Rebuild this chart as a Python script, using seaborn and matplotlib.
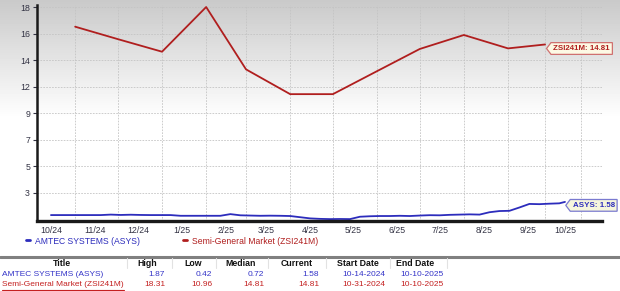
import numpy as np
import pandas as pd
import matplotlib
matplotlib.use("Agg")
import matplotlib.pyplot as plt
import matplotlib.ticker as mticker
import matplotlib.dates as mdates
from matplotlib.lines import Line2D
from matplotlib.path import Path
import seaborn as sns

# ---------------- data ----------------
asys_name = "AMTEC SYSTEMS (ASYS)"
zsi_name = "Semi-General Market (ZSI241M)"

asys_start = "2024-10-14"
asys_weekly = [0.76, 0.76, 0.76, 0.76, 0.76, 0.76, 0.80, 0.77, 0.79, 0.77,
               0.76, 0.76, 0.76, 0.70, 0.70, 0.70, 0.70, 0.70, 0.84, 0.74,
               0.72, 0.70, 0.71, 0.70, 0.68, 0.58, 0.48, 0.44, 0.42, 0.43,
               0.42, 0.62, 0.66, 0.68, 0.68, 0.70, 0.68, 0.72, 0.75, 0.74,
               0.78, 0.80, 0.82, 0.80, 1.00, 1.10, 1.12, 1.40, 1.70, 1.68,
               1.72, 1.75]
asys_end_date = "2025-10-10"
asys_end_value = 1.87

zsi_dates = ["2024-10-31", "2024-11-30", "2024-12-31", "2025-01-31",
             "2025-02-28", "2025-03-31", "2025-04-30", "2025-05-31",
             "2025-06-30", "2025-07-31", "2025-08-31", "2025-09-26"]
zsi_values = [16.65, 15.60, 14.54, 18.31, 13.05, 10.96, 10.96, 12.90,
              14.77, 15.95, 14.82, 15.15]
extra_grid_date = "2025-10-21"

x_label_dates = ["2024-10-14", "2024-11-14", "2024-12-14", "2025-01-14",
                 "2025-02-14", "2025-03-14", "2025-04-14", "2025-05-14",
                 "2025-06-14", "2025-07-14", "2025-08-14", "2025-09-14",
                 "2025-10-10"]
x_labels = ["10/24", "11/24", "12/24", "1/25", "2/25", "3/25", "4/25",
            "5/25", "6/25", "7/25", "8/25", "9/25", "10/25"]

y_low, y_high = 0.42, 18.31
y_labels = ["3", "5", "7", "9", "12", "14", "16", "18"]

table_header = ["Title", "High", "Low", "Median", "Current", "Start Date", "End Date"]
asys_row = [asys_name, "1.87", "0.42", "0.72", "1.58", "10-14-2024", "10-10-2025"]
zsi_row = [zsi_name, "18.31", "10.96", "14.81", "14.81", "10-31-2024", "10-10-2025"]
asys_current = 1.58
zsi_current = 14.81

# ---------------- frame ----------------
asys_dates = list(pd.date_range(asys_start, periods=len(asys_weekly), freq="7D")) + [pd.Timestamp(asys_end_date)]
df = pd.concat([
    pd.DataFrame({"date": asys_dates, "value": asys_weekly + [asys_end_value], "series": asys_name}),
    pd.DataFrame({"date": pd.to_datetime(zsi_dates), "value": zsi_values, "series": zsi_name}),
], ignore_index=True)

BLUE = "#2c2cbc"
RED = "#b01e1e"

sns.set_theme(style="white")
plt.rcParams["font.family"] = ["Liberation Sans", "DejaVu Sans"]

W, H = 620, 291
fig = plt.figure(figsize=(W / 100, H / 100), dpi=100, facecolor="white")

# gradient background
bg = fig.add_axes([0, 0, 1, 1], zorder=-10)
rows = np.arange(H)
grad = 0.79 + 0.21 * np.clip(rows / 118.0, 0, 1)
bg.imshow(grad[:, None], cmap="gray", vmin=0, vmax=1, aspect="auto",
          extent=[0, 1, 0, 1], origin="upper")
bg.axis("off")

def fx(px):
    return px / W

def fy(py):
    return 1 - py / H

ax = fig.add_axes([fx(37), fy(221), fx(602) - fx(37), fy(5) - fy(221)])
ax.set_facecolor("none")

sns.lineplot(data=df, x="date", y="value", hue="series",
             palette={asys_name: BLUE, zsi_name: RED}, ax=ax,
             sort=False, estimator=None, linewidth=1.3)

# axes limits
x0 = pd.Timestamp(asys_start) - pd.Timedelta(days=9.8)
x1 = pd.Timestamp(asys_start) + pd.Timedelta(days=387)
ax.set_xlim(x0, x1)
ax.set_ylim(0.26, 18.48)

# y ticks
yt = np.linspace(y_low, y_high, 9)[1:]
ax.yaxis.set_major_locator(mticker.FixedLocator(yt))
ax.yaxis.set_major_formatter(mticker.FixedFormatter(y_labels))

# x: grid at month positions, labels via minor ticks
grid_nums = mdates.date2num(pd.to_datetime(zsi_dates + [extra_grid_date]))
ax.xaxis.set_major_locator(mticker.FixedLocator(grid_nums))
ax.xaxis.set_major_formatter(mticker.NullFormatter())
ax.xaxis.set_minor_locator(mticker.FixedLocator(mdates.date2num(pd.to_datetime(x_label_dates))))
ax.xaxis.set_minor_formatter(mticker.FixedFormatter(x_labels))

ax.tick_params(axis="x", which="major", length=0)
ax.tick_params(axis="x", which="minor", length=1.5, pad=2, labelsize=6.3,
               colors="#333344", width=0.6)
ax.tick_params(axis="y", which="major", length=3, pad=2, labelsize=6.3,
               colors="#333344", width=0.8, left=True)
ax.set_xlabel("")
ax.set_ylabel("")

ax.grid(True, axis="both", which="major", color="#c4c4c4", linestyle=(0, (2, 1.5)),
        linewidth=0.6)
ax.set_axisbelow(True)

for s in ["top", "right"]:
    ax.spines[s].set_visible(False)
ax.spines["left"].set_color("#1a1a1a")
ax.spines["left"].set_linewidth(1.8)
ax.spines["bottom"].set_color("#1a1a1a")
ax.spines["bottom"].set_linewidth(2.4)


def tag_box(x0, y0, width, height, mutation_size):
    pad = 0.3 * mutation_size
    bx0, by0 = x0 - pad, y0 - pad
    bx1, by1 = x0 + width + pad, y0 + height + pad
    tip = 0.38 * (by1 - by0)
    ym = (by0 + by1) / 2
    verts = [(bx0, by0), (bx1, by0), (bx1, by1), (bx0, by1), (bx0 - tip, ym), (bx0, by0)]
    return Path(verts, closed=True)


# value tags
last_zsi = pd.Timestamp(zsi_dates[-1])
ax.annotate(f"ZSI241M: {zsi_current:.2f}", xy=(last_zsi, zsi_current),
            xytext=(6, 0), textcoords="offset points", ha="left", va="center",
            fontsize=5.7, fontweight="bold", color=RED,
            bbox=dict(boxstyle=tag_box, fc="#fdf9e4", ec="#cf7070", lw=0.9))
ax.annotate(f"ASYS: {asys_current:.2f}", xy=(pd.Timestamp(asys_end_date), asys_current),
            xytext=(5.5, 0), textcoords="offset points", ha="left", va="center",
            fontsize=5.7, fontweight="bold", color=BLUE,
            bbox=dict(boxstyle=tag_box, fc="#f6f6dc", ec="#7a7ad0", lw=0.9))

# legend
sns.move_legend(ax, "center left", bbox_to_anchor=(fx(26), fy(241)),
                bbox_transform=fig.transFigure, ncol=2, frameon=False, title=None,
                handlelength=0.5, handletextpad=0.55, columnspacing=5.0,
                fontsize=6.2, borderaxespad=0, borderpad=0)
leg = ax.get_legend()
for txt, col in zip(leg.get_texts(), [BLUE, RED]):
    txt.set_color(col)
for h in leg.legend_handles:
    h.set_linewidth(2)

# table
fig.add_artist(Line2D([0, 1], [fy(256.5), fy(256.5)], transform=fig.transFigure,
                      color="#808080", linewidth=2.2))
header_x = [62, 147, 193, 241, 297, 358, 415]
for t, x in zip(table_header, header_x):
    fig.text(fx(x), fy(263), t, ha="center", va="center", fontsize=6.3,
             fontweight="bold", color="#111111")
for x in [127, 172, 216, 268, 326, 390, 447]:
    fig.add_artist(Line2D([fx(x), fx(x)], [fy(258), fy(268)], transform=fig.transFigure,
                          color="#e2e2e2", linewidth=0.8))

value_right = [165, 212, 264, 319, 385, 444]
renderer = fig.canvas.get_renderer()
for row, col, ypx in [(asys_row, "#3434c8", 274), (zsi_row, "#c42020", 285)]:
    t0 = fig.text(fx(2), fy(ypx), row[0], ha="left", va="center", fontsize=6.0, color=col)
    for v, x in zip(row[1:], value_right):
        fig.text(fx(x), fy(ypx), v, ha="right", va="center", fontsize=6.0, color=col)
    if row is zsi_row:
        bb = t0.get_window_extent(renderer=renderer)
        fig.add_artist(Line2D([bb.x0 / W, bb.x1 / W], [fy(ypx + 4.5)] * 2,
                              transform=fig.transFigure, color=col, linewidth=0.8))

fig.savefig("out.png", dpi=100, facecolor="white")
